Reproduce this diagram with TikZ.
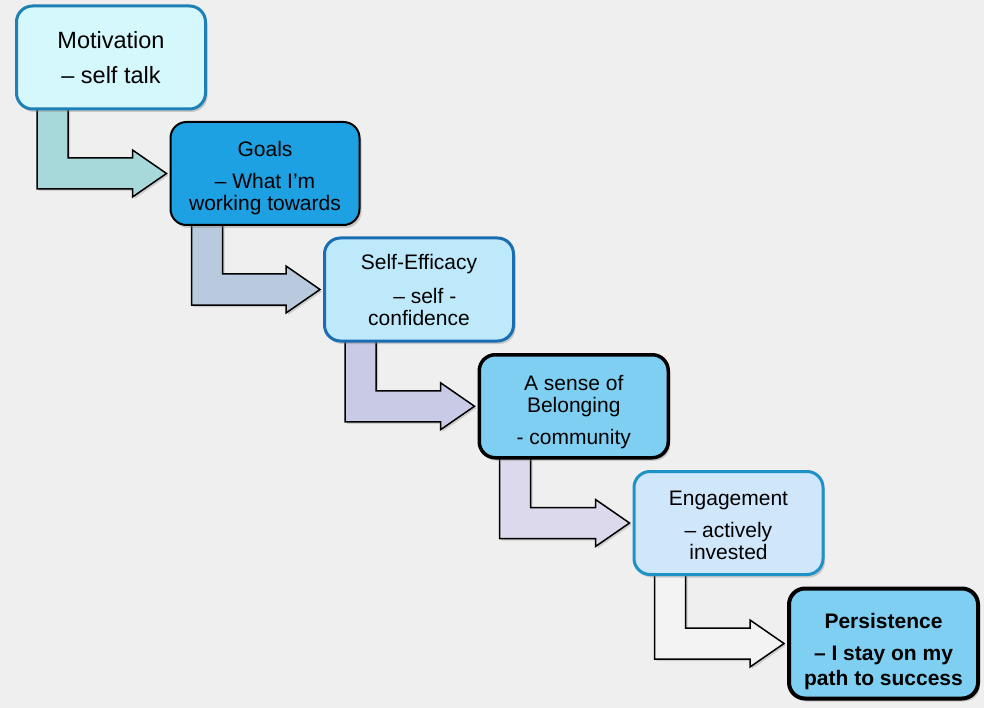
\documentclass[tikz,border=0pt]{standalone}
\usepackage{fontspec}
\setmainfont{Liberation Sans}
\usetikzlibrary{positioning,shadows}
\pgfdeclarelayer{back}
\pgfsetlayers{back,main}

\definecolor{paper}{HTML}{EFEFEF}
\definecolor{motivfill}{HTML}{D5F8FC}
\definecolor{motivline}{HTML}{1E80B5}
\definecolor{goalsfill}{HTML}{1DA1E3}
\definecolor{effifill}{HTML}{BEE9FB}
\definecolor{effiline}{HTML}{1B6DB2}
\definecolor{belongfill}{HTML}{7FCFF2}
\definecolor{engfill}{HTML}{CFE6FB}
\definecolor{engline}{HTML}{1D92C6}
\definecolor{arrowa}{HTML}{A8D9DA}
\definecolor{arrowb}{HTML}{B9CADF}
\definecolor{arrowc}{HTML}{C8CAE6}
\definecolor{arrowd}{HTML}{DCD9EC}
\definecolor{arrowe}{HTML}{F3F3F3}

\tikzset{
  stepbox/.style={rounded corners=16pt, minimum width=189pt, minimum height=103pt,
    align=center, line width=3pt, font=\fontsize{21}{22}\selectfont,
    drop shadow={opacity=0.35, shadow xshift=2pt, shadow yshift=-3pt}},
  bent/.style={draw=black, line width=1.5pt, line join=miter,
    drop shadow={opacity=0.3, shadow xshift=2pt, shadow yshift=-2pt}},
}

\begin{document}
\begin{tikzpicture}[x=1pt, y=1pt, node distance=10.5pt and -37.5pt]
  \begin{pgfonlayer}{back}
    \fill[paper] (0,0) rectangle (984,-708);
  \end{pgfonlayer}
  \useasboundingbox (0,0) rectangle (984,-708);

  \node[stepbox, draw=motivline, fill=motivfill, font=\fontsize{23.5}{24}\selectfont] (motiv) at (111,-57.5) {Motivation\\[11pt]– self talk};
  \node[stepbox, draw=black, line width=2pt, fill=goalsfill, text height=73.5pt, text depth=0pt] (goals) [below right=of motiv] {Goals\\[10pt]– What I’m\\working towards};
  \node[stepbox, draw=effiline, fill=effifill] (effic) [below right=of goals] {Self-Efficacy\\[12pt]\ \ – self -\\confidence};
  \node[stepbox, draw=black, line width=3.5pt, fill=belongfill, text height=75.5pt, text depth=0pt] (belong) [below right=of effic] {A sense of\\Belonging\\[10pt]- community};
  \node[stepbox, draw=engline, fill=engfill, text height=74pt] (engage) [below right=of belong] {Engagement\\[10pt]– actively\\invested};
  \node[stepbox, draw=black, line width=4pt, fill=belongfill, minimum height=110pt, text height=84.5pt, text depth=0pt, font=\fontsize{21}{22}\selectfont\bfseries] (persist) [below right=of engage] {Persistence\\[10pt]– I stay on my\\[3pt]path to success};

  \begin{pgfonlayer}{back}
    \draw[bent, fill=arrowa] ([xshift=22pt,yshift=4pt]motiv.south west) |- ([xshift=-37pt,yshift=-15.5pt]goals.west) -- ++(0,-8) -- ([xshift=-3pt]goals.west) -- ++(-34,23.5) -- ++(0,-8) -| ([xshift=53pt,yshift=4pt]motiv.south west) -- cycle;
    \draw[bent, fill=arrowb] ([xshift=22pt,yshift=4pt]goals.south west) |- ([xshift=-37pt,yshift=-15.5pt]effic.west) -- ++(0,-8) -- ([xshift=-3pt]effic.west) -- ++(-34,23.5) -- ++(0,-8) -| ([xshift=53pt,yshift=4pt]goals.south west) -- cycle;
    \draw[bent, fill=arrowc] ([xshift=22pt,yshift=4pt]effic.south west) |- ([xshift=-37pt,yshift=-15.5pt]belong.west) -- ++(0,-8) -- ([xshift=-3pt]belong.west) -- ++(-34,23.5) -- ++(0,-8) -| ([xshift=53pt,yshift=4pt]effic.south west) -- cycle;
    \draw[bent, fill=arrowd] ([xshift=22pt,yshift=4pt]belong.south west) |- ([xshift=-37pt,yshift=-15.5pt]engage.west) -- ++(0,-8) -- ([xshift=-3pt]engage.west) -- ++(-34,23.5) -- ++(0,-8) -| ([xshift=53pt,yshift=4pt]belong.south west) -- cycle;
    \draw[bent, fill=arrowe] ([xshift=22pt,yshift=4pt]engage.south west) |- ([xshift=-37pt,yshift=-15.5pt]persist.west) -- ++(0,-8) -- ([xshift=-3pt]persist.west) -- ++(-34,23.5) -- ++(0,-8) -| ([xshift=53pt,yshift=4pt]engage.south west) -- cycle;
  \end{pgfonlayer}
\end{tikzpicture}
\end{document}
